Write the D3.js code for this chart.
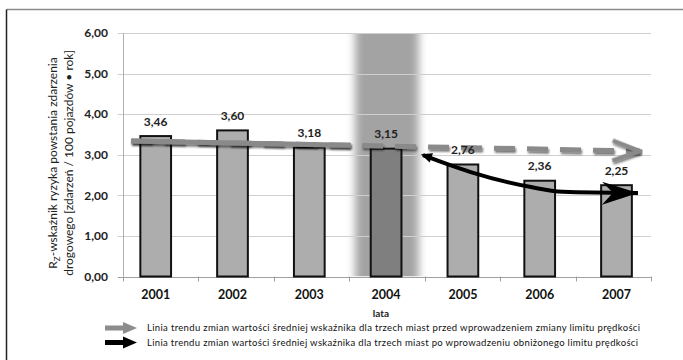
<!DOCTYPE html>
<html>
<head>
<meta charset="utf-8">
<script src="https://cdn.jsdelivr.net/npm/d3@7"></script>
<style>
  html, body { margin: 0; padding: 0; background: #fff; }
  svg { display: block; font-family: Lato, "Open Sans", sans-serif; }
</style>
</head>
<body>
<svg id="chart" width="683" height="360"></svg>
<script>
// Road-accident risk index R_Z per year
const years = ["2001", "2002", "2003", "2004", "2005", "2006", "2007"];
const riskValues = [3.46, 3.60, 3.18, 3.15, 2.76, 2.36, 2.25];
const yTicks = [0, 1, 2, 3, 4, 5, 6];
const highlightYear = "2004";

// Trend before the speed-limit change: [year, value] end points
const trendBefore = [[2000.68, 3.34], [2007.3, 3.09]];
const trendBeforeSolidEnd = 2003.54;
// Trend after introducing the lower speed limit
const trendAfter = [[2004.48, 2.99], [2005.09, 2.58], [2005.87, 2.21], [2006.3, 2.09], [2007.28, 2.06]];

const legendItems = [
  "Linia trendu zmian  wartości  średniej wskaźnika dla trzech miast przed wprowadzeniem  zmiany limitu prędkości",
  "Linia trendu zmian  wartości  średniej wskaźnika dla trzech miast po wprowadzeniu  obniżonego limitu prędkości"
];
const legendColors = ["#8c8c8c", "#000"];

const svg = d3.select("#chart");
const defs = svg.append("defs");

const plot = { left: 122.7, right: 651, top: 33, bottom: 276.5 };

const y = d3.scaleLinear().domain([0, 6]).range([plot.bottom, plot.top]);
const xAxisBand = d3.scaleBand().domain(years).range([plot.left, plot.right]);
const xBar = d3.scaleBand().domain(years).range([117.3, 654.9]).paddingInner(0.6).paddingOuter(0.3);
const xYear = d3.scaleLinear().domain([2001, 2007])
  .range([xBar("2001") + xBar.bandwidth() / 2, xBar("2007") + xBar.bandwidth() / 2]);
const fmt = v => d3.format(".2f")(v).replace(".", ",");

// filters
const hBlur = defs.append("filter").attr("id", "hblur")
  .attr("x", "-50%").attr("y", "0").attr("width", "200%").attr("height", "100%");
hBlur.append("feGaussianBlur").attr("stdDeviation", "4 0");

const shadow = defs.append("filter").attr("id", "shadow")
  .attr("x", "-10%").attr("y", "-200%").attr("width", "120%").attr("height", "500%");
shadow.append("feDropShadow").attr("dx", 1).attr("dy", 2).attr("stdDeviation", 1.3)
  .attr("flood-color", "#000").attr("flood-opacity", 0.55);

defs.append("clipPath").attr("id", "plotClip").append("rect")
  .attr("x", plot.left).attr("y", plot.top)
  .attr("width", plot.right - plot.left).attr("height", plot.bottom - plot.top);

// outer frame
svg.append("line").attr("x1", 6.5).attr("x2", 683).attr("y1", 9.5).attr("y2", 9.5)
  .attr("stroke", "#8a8a8a").attr("stroke-width", 1.5);
svg.append("line").attr("x1", 6.5).attr("x2", 6.5).attr("y1", 9.5).attr("y2", 360)
  .attr("stroke", "#222").attr("stroke-width", 1.5);

// highlighted year band
svg.append("g").attr("clip-path", "url(#plotClip)")
  .append("rect")
  .attr("x", xAxisBand(highlightYear) + 6)
  .attr("width", xAxisBand.bandwidth() - 12)
  .attr("y", plot.top).attr("height", plot.bottom - plot.top)
  .attr("fill", "#a3a3a3")
  .attr("filter", "url(#hblur)");

// gridlines + y labels
const yAxis = svg.append("g");
yAxis.selectAll("line.grid").data(yTicks).join("line")
  .attr("class", "grid")
  .attr("x1", plot.left - 5).attr("x2", plot.right)
  .attr("y1", d => Math.round(y(d)) + 0.5).attr("y2", d => Math.round(y(d)) + 0.5)
  .attr("stroke", d => d === 0 ? "#a0a0a0" : "#cfcfcf").attr("stroke-width", 1);
yAxis.append("line")
  .attr("x1", Math.round(plot.left) + 0.5).attr("x2", Math.round(plot.left) + 0.5)
  .attr("y1", plot.top).attr("y2", plot.bottom)
  .attr("stroke", "#b0b0b0");
yAxis.selectAll("text").data(yTicks).join("text")
  .attr("x", 108).attr("y", d => y(d))
  .attr("dy", "0.35em")
  .attr("text-anchor", "end")
  .attr("font-size", 12).attr("font-weight", 700).attr("fill", "#222")
  .text(d => fmt(d));

// x axis ticks at category boundaries
const tickPos = years.map(d => xAxisBand(d)).concat([plot.right]);
svg.append("g").selectAll("line").data(tickPos).join("line")
  .attr("x1", d => Math.round(d) + 0.5).attr("x2", d => Math.round(d) + 0.5)
  .attr("y1", plot.bottom).attr("y2", plot.bottom + 5)
  .attr("stroke", "#a0a0a0");

// bars
svg.append("g").selectAll("rect").data(years).join("rect")
  .attr("x", d => xBar(d))
  .attr("width", xBar.bandwidth())
  .attr("y", (d, i) => y(riskValues[i]))
  .attr("height", (d, i) => y(0) - y(riskValues[i]))
  .attr("fill", d => d === highlightYear ? "#7f7f7f" : "#adadad")
  .attr("stroke", "#111").attr("stroke-width", 2);

// year labels
svg.append("g").selectAll("text").data(years).join("text")
  .attr("x", d => xBar(d) + xBar.bandwidth() / 2)
  .attr("y", 298.5)
  .attr("text-anchor", "middle")
  .attr("font-size", 12.5).attr("font-weight", 700).attr("fill", "#111")
  .text(d => d);

svg.append("text").attr("x", 381).attr("y", 316.5)
  .attr("text-anchor", "middle").attr("font-size", 10).attr("font-weight", 700)
  .attr("fill", "#222").text("lata");

// trend before the change: dashed full length, solid for the observed years
const lineGen = d3.line().x(d => xYear(d[0])).y(d => y(d[1]));
const tb0 = trendBefore[0], tb1 = trendBefore[1];
const tbAt = t => tb0[1] + (tb1[1] - tb0[1]) * (t - tb0[0]) / (tb1[0] - tb0[0]);

svg.append("path")
  .attr("d", lineGen(trendBefore))
  .attr("fill", "none").attr("stroke", "#8a8a8a").attr("stroke-width", 5)
  .attr("stroke-dasharray", "21 12")
  .attr("filter", "url(#shadow)");
svg.append("path")
  .attr("d", lineGen([tb0, [trendBeforeSolidEnd, tbAt(trendBeforeSolidEnd)]]))
  .attr("fill", "none").attr("stroke", "#8a8a8a").attr("stroke-width", 5)
  .attr("filter", "url(#shadow)");

function angleAt(p, q) {
  return Math.atan2(y(q[1]) - y(p[1]), xYear(q[0]) - xYear(p[0])) * 180 / Math.PI;
}
// open chevron head on the dashed trend
svg.append("path")
  .attr("d", "M-27,-10 L0,0 L-27,10")
  .attr("transform", `translate(${xYear(tb1[0])},${y(tb1[1])}) rotate(${angleAt(tb0, tb1)})`)
  .attr("fill", "none").attr("stroke", "#8a8a8a").attr("stroke-width", 4.5)
  .attr("stroke-linejoin", "miter")
  .attr("filter", "url(#shadow)");

// trend after the lower limit
const curveGen = d3.line().x(d => xYear(d[0])).y(d => y(d[1])).curve(d3.curveMonotoneX);
svg.append("path")
  .attr("d", curveGen(trendAfter))
  .attr("fill", "none").attr("stroke", "#000").attr("stroke-width", 4)
  .attr("stroke-linecap", "butt");
const ta = trendAfter;
const nA = ta.length;
svg.append("path")
  .attr("d", "M0,0 L-36,-11 L-25,0 L-36,12 Z")
  .attr("transform", `translate(${xYear(ta[nA - 1][0])},${y(ta[nA - 1][1])}) rotate(${angleAt(ta[nA - 2], ta[nA - 1]) * 0.3})`)
  .attr("fill", "#000");
svg.append("path")
  .attr("d", "M0,0 L-11,-5 L-11,5 Z")
  .attr("transform", `translate(${xYear(ta[0][0]) - 2},${y(ta[0][1]) - 1}) rotate(${angleAt(ta[1], ta[0])})`)
  .attr("fill", "#000");

// value labels
svg.append("g").selectAll("text").data(years).join("text")
  .attr("x", d => xBar(d) + xBar.bandwidth() / 2)
  .attr("y", (d, i) => y(riskValues[i]) - 10.5)
  .attr("text-anchor", "middle")
  .attr("font-size", 12).attr("font-weight", 700).attr("fill", "#222")
  .text((d, i) => fmt(riskValues[i]));

// y-axis title (two rotated lines)
const yTitle = svg.append("g").attr("transform", "translate(0,163) rotate(-90)")
  .attr("font-size", 12).attr("fill", "#222").attr("text-anchor", "middle");
const t1 = yTitle.append("text").attr("x", 0).attr("y", 57);
t1.append("tspan").text("R");
t1.append("tspan").attr("font-size", 8).attr("dy", 3).text("Z");
t1.append("tspan").attr("dy", -3).text("-wskaźnik ryzyka powstania zdarzenia");
yTitle.append("text").attr("x", 0).attr("y", 73)
  .text("drogowego  [zdarzeń / 100 pojazdów • rok]");

// legend
const legend = svg.append("g");
legendItems.forEach((label, i) => {
  const cy = 328 + i * 14.5;
  legend.append("path")
    .attr("d", `M105,${cy - 2.5} L123,${cy - 2.5} L123,${cy - 6} L137,${cy} L123,${cy + 6} L123,${cy + 2.5} L105,${cy + 2.5} Z`)
    .attr("fill", legendColors[i]);
  legend.append("text")
    .attr("x", 147).attr("y", cy).attr("dy", "0.35em")
    .attr("font-size", 9.5).attr("fill", "#111")
    .attr("textLength", 493 - i * 2).attr("lengthAdjust", "spacing")
    .text(label);
});
</script>
</body>
</html>
